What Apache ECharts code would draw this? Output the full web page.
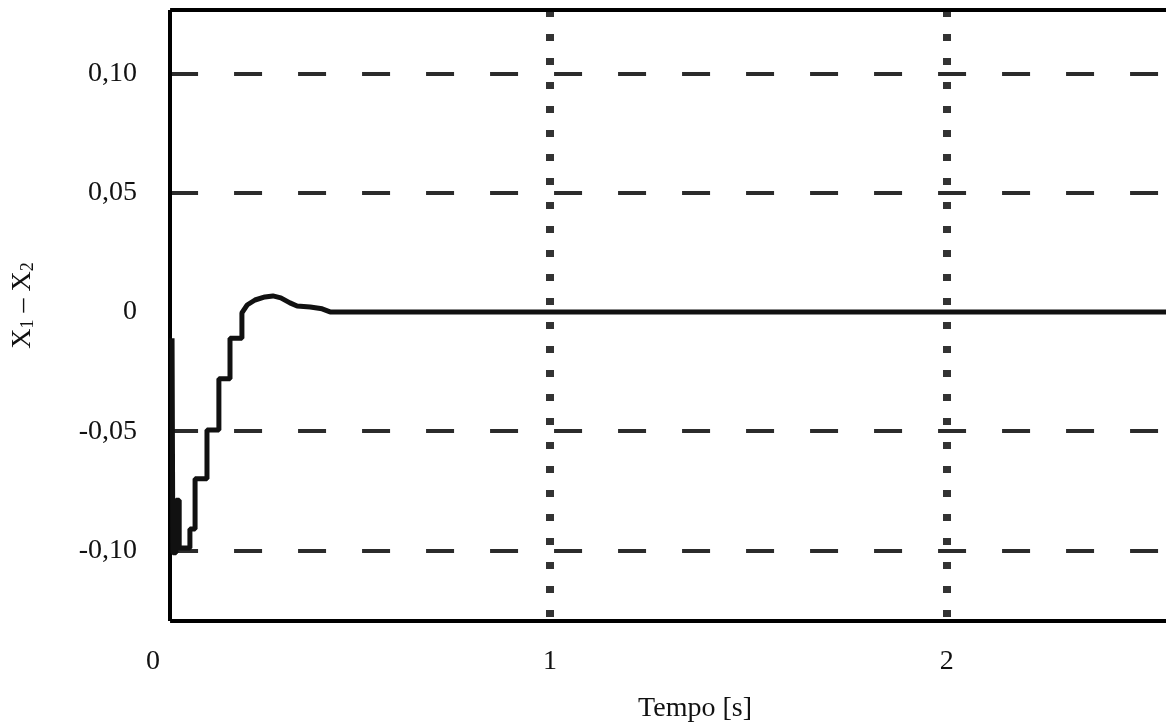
<!DOCTYPE html>
<html>
<head>
<meta charset="utf-8">
<script src="https://cdn.jsdelivr.net/npm/echarts@6/dist/echarts.min.js"></script>
<style>
html,body{margin:0;padding:0;background:#fff;}
#chart{width:1166px;height:725px;}
</style>
</head>
<body>
<div id="chart"></div>
<script>
// Time [s]
const time = [0.048, 0.050, 0.058, 0.058, 0.066, 0.066, 0.093, 0.093, 0.106, 0.106, 0.136, 0.136,
  0.166, 0.166, 0.194, 0.194, 0.224, 0.224, 0.237, 0.257, 0.282, 0.302, 0.322, 0.345, 0.363,
  0.396, 0.426, 0.446, 2.6];
// X1 - X2
const diff = [-0.011, -0.101, -0.101, -0.079, -0.079, -0.099, -0.099, -0.091, -0.091, -0.070, -0.070, -0.0495,
  -0.0495, -0.028, -0.028, -0.011, -0.011, -0.0004, 0.0029, 0.0050, 0.0063, 0.0067, 0.0059, 0.0038, 0.0025,
  0.0021, 0.0013, 0, 0];
const yTicks = [-0.10, -0.05, 0, 0.05, 0.10];
const xTicks = [0, 1, 2];
const xGridLines = [1, 2];
const yGridLines = [-0.10, -0.05, 0.05, 0.10];

const X_MIN = 0, X_MAX = 2.6, Y_MIN = -0.1296, Y_MAX = 0.1266, FRAME_X = 0.043;
const FONT = 'Liberation Serif';

function fmtY(v) {
  if (Math.abs(v) < 1e-9) return '0';
  return v.toFixed(2).replace('.', ',');
}
function fmtX(v) { return String(Math.round(v)); }

const markData = [];
yGridLines.forEach(v => markData.push([{coord: [FRAME_X, v], lineStyle: {type: [28, 36], width: 4, color: '#2b2b2b'}}, {coord: [X_MAX, v]}]));
xGridLines.forEach(v => markData.push([{coord: [v, Y_MAX], lineStyle: {type: [7, 17], width: 8, color: '#333'}}, {coord: [v, Y_MIN]}]));
// frame
markData.push([{coord: [FRAME_X, Y_MIN], lineStyle: {type: 'solid', width: 4, color: '#000'}}, {coord: [FRAME_X, Y_MAX]}]);
markData.push([{coord: [FRAME_X, Y_MAX], lineStyle: {type: 'solid', width: 4, color: '#000'}}, {coord: [X_MAX, Y_MAX]}]);
markData.push([{coord: [FRAME_X, Y_MIN], lineStyle: {type: 'solid', width: 4, color: '#000'}}, {coord: [X_MAX, Y_MIN]}]);

const chart = echarts.init(document.getElementById('chart'));
chart.setOption({
  animation: false,
  backgroundColor: '#fff',
  grid: {left: 153, right: -19, top: 10, bottom: 104, outerBoundsMode: 'none', containLabel: false},
  xAxis: {
    type: 'value', min: X_MIN, max: X_MAX, interval: 1,
    axisLine: {show: false}, axisTick: {show: false}, splitLine: {show: false},
    axisLabel: {customValues: xTicks, margin: 27, fontFamily: FONT, fontSize: 28, color: '#111', formatter: v => fmtX(v)},
    name: 'Tempo [s]', nameLocation: 'middle', nameGap: 74,
    nameTextStyle: {fontFamily: FONT, fontSize: 28, color: '#111', padding: [0, 0, 0, 52]}
  },
  yAxis: {
    type: 'value', min: Y_MIN, max: Y_MAX,
    axisLine: {show: false}, axisTick: {show: false}, splitLine: {show: false},
    axisLabel: {customValues: yTicks, margin: 16, fontFamily: FONT, fontSize: 28, color: '#111', formatter: v => fmtY(v)},
    name: '{a|X}{s|1}{a| – X}{s|2}', nameLocation: 'middle', nameRotate: 90, nameGap: 116,
    nameTextStyle: {
      padding: [0, 0, 0, 20],
      rich: {
        a: {fontFamily: FONT, fontSize: 28, color: '#111', verticalAlign: 'bottom', lineHeight: 32},
        s: {fontFamily: FONT, fontSize: 18, color: '#111', verticalAlign: 'bottom', lineHeight: 24}
      }
    }
  },
  series: [{
    type: 'line',
    data: time.map((t, i) => [t, diff[i]]),
    showSymbol: false,
    lineStyle: {color: '#111', width: 5},
    z: 5,
    markLine: {silent: true, symbol: 'none', label: {show: false}, data: markData, z: 3}
  }]
});
</script>
</body>
</html>
